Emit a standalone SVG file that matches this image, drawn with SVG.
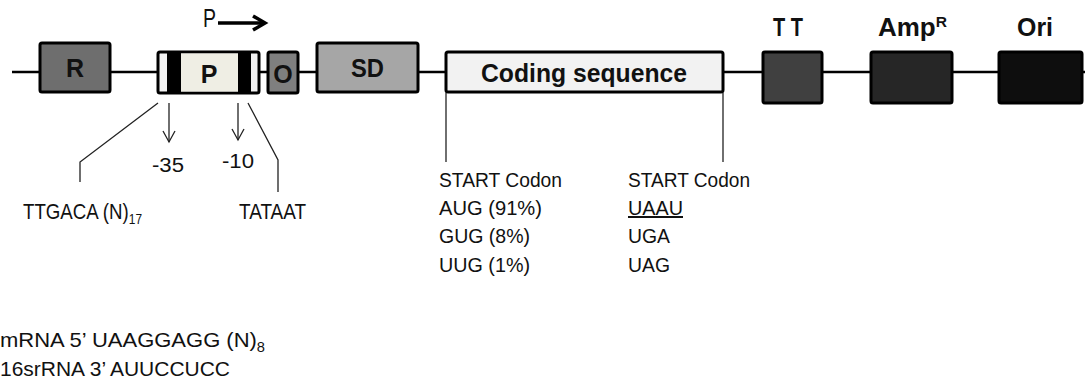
<svg xmlns="http://www.w3.org/2000/svg" width="1085" height="389" viewBox="0 0 1085 389">
<style>
.box{stroke:#000;stroke-width:3}
.lbl{font-family:"Liberation Sans",Arial,sans-serif;font-weight:bold;font-size:25px;fill:#111;text-anchor:middle}
.t{font-family:"Liberation Sans",Arial,sans-serif;font-size:20px;fill:#111}
.t22{font-size:22px}
.t21{font-size:21px}
.sub{font-size:14px}
.ln{stroke:#222;stroke-width:1.3;fill:none}
</style>
<rect width="1085" height="389" fill="#fff"/>
<g id="connectors">
<line x1="12" y1="72" x2="1085" y2="72" stroke="#000" stroke-width="2.5"/>
<polyline class="ln" points="158,103 80,162 80,182"/>
<polyline class="ln" points="248,103 278,160 278,192"/>
<line class="ln" x1="169" y1="103" x2="169" y2="142"/>
<polyline class="ln" points="163,131 169,142 175,131"/>
<line class="ln" x1="238" y1="103" x2="238" y2="140"/>
<polyline class="ln" points="232,129 238,140 244,129"/>
<line class="ln" x1="446" y1="93" x2="446" y2="162"/>
<line class="ln" x1="723" y1="93" x2="723" y2="162"/>
<line x1="218" y1="23" x2="263" y2="23" stroke="#000" stroke-width="3.5"/>
<polyline points="253,16 265,23 253,30" fill="none" stroke="#000" stroke-width="3.5"/>
</g>
<g id="node-R">
<rect class="box" x="40" y="43" width="70" height="49" rx="2" fill="#6e6e6e"/>
<text class="lbl" x="75" y="77">R</text>
</g>
<g id="node-P">
<rect class="box" x="158" y="52" width="101" height="41" rx="2" fill="#f2f2f2"/>
<rect x="167" y="52" width="14" height="41" fill="#000"/>
<rect x="181" y="53.5" width="57" height="38" fill="#efeee4"/>
<rect x="238" y="52" width="13" height="41" fill="#000"/>
<text class="lbl" x="209" y="83">P</text>
</g>
<g id="node-O">
<rect class="box" x="268" y="52" width="30" height="41" rx="2" fill="#7f7f7f"/>
<text class="lbl" x="283" y="83">O</text>
</g>
<g id="node-SD">
<rect class="box" x="317" y="43" width="101" height="49" rx="2" fill="#a6a6a6"/>
<text class="lbl" x="367.5" y="77" textLength="33" lengthAdjust="spacingAndGlyphs">SD</text>
</g>
<g id="node-coding">
<rect class="box" x="446" y="52" width="277" height="40" rx="2" fill="#f2f2f2"/>
<text class="lbl" x="584" y="82" textLength="206" lengthAdjust="spacingAndGlyphs">Coding sequence</text>
</g>
<g id="node-TT">
<rect class="box" x="763" y="52" width="59" height="51" rx="2" fill="#404040"/>
<text class="lbl" x="788" y="36" textLength="30" lengthAdjust="spacingAndGlyphs">T T</text>
</g>
<g id="node-Amp">
<rect class="box" x="871" y="52" width="81" height="51" rx="2" fill="#262626"/>
<text class="lbl" x="878" y="36" style="text-anchor:start" textLength="69" lengthAdjust="spacingAndGlyphs">Amp<tspan style="font-size:15px" dy="-9">R</tspan></text>
</g>
<g id="node-Ori">
<rect class="box" x="999" y="52" width="83" height="51" rx="2" fill="#0e0e0e"/>
<text class="lbl" x="1035" y="36" textLength="36" lengthAdjust="spacingAndGlyphs">Ori</text>
</g>
<g id="labels">
<text class="t" x="203" y="27" style="font-size:25px" textLength="13" lengthAdjust="spacingAndGlyphs">P</text>
<text class="t" x="152" y="172" textLength="32" lengthAdjust="spacingAndGlyphs">-35</text>
<text class="t" x="222" y="168" textLength="32" lengthAdjust="spacingAndGlyphs">-10</text>
<text class="t t22" x="23" y="219" textLength="119" lengthAdjust="spacingAndGlyphs">TTGACA (N)<tspan class="sub" dy="5">17</tspan></text>
<text class="t t22" x="239" y="219" textLength="67" lengthAdjust="spacingAndGlyphs">TATAAT</text>
<text class="t" x="439" y="187" textLength="123" lengthAdjust="spacingAndGlyphs">START Codon</text>
<text class="t" x="439" y="215" textLength="103" lengthAdjust="spacingAndGlyphs">AUG (91%)</text>
<text class="t" x="439" y="243" textLength="91" lengthAdjust="spacingAndGlyphs">GUG (8%)</text>
<text class="t" x="439" y="272" textLength="91" lengthAdjust="spacingAndGlyphs">UUG (1%)</text>
<text class="t" x="628" y="187" textLength="122" lengthAdjust="spacingAndGlyphs">START Codon</text>
<text class="t" x="628" y="215" textLength="55" lengthAdjust="spacingAndGlyphs" text-decoration="underline">UAAU</text>
<text class="t" x="628" y="243" textLength="42" lengthAdjust="spacingAndGlyphs">UGA</text>
<text class="t" x="628" y="272" textLength="42" lengthAdjust="spacingAndGlyphs">UAG</text>
<text class="t t21" x="0" y="347" textLength="265" lengthAdjust="spacingAndGlyphs">mRNA 5’ UAAGGAGG (N)<tspan class="sub" dy="5">8</tspan></text>
<text class="t t21" x="0" y="376" textLength="230" lengthAdjust="spacingAndGlyphs">16srRNA 3’ AUUCCUCC</text>
</g>
</svg>
